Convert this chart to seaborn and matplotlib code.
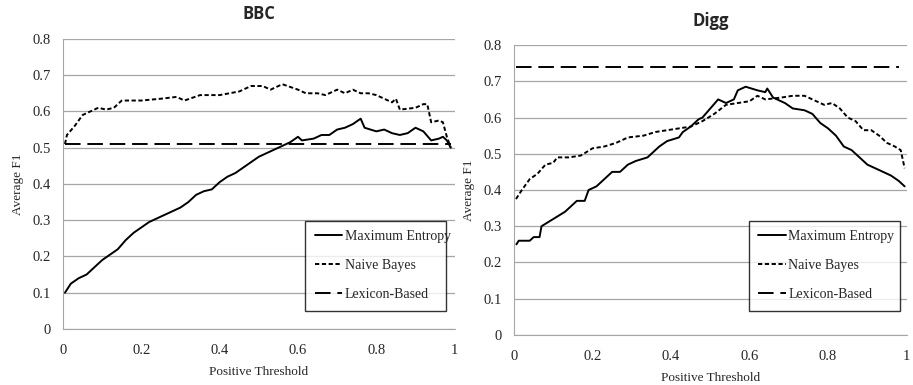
import numpy as np
import pandas as pd
import seaborn as sns
import matplotlib.pyplot as plt

# BBC
bbc_me_x = [0.005, 0.02, 0.04, 0.06, 0.08, 0.1, 0.12, 0.14, 0.16, 0.18, 0.2, 0.22, 0.24, 0.26, 0.28, 0.3,
            0.32, 0.34, 0.36, 0.38, 0.4, 0.42, 0.44, 0.46, 0.48, 0.5, 0.52, 0.54, 0.56, 0.58, 0.6, 0.61,
            0.64, 0.66, 0.68, 0.7, 0.72, 0.74, 0.76, 0.77, 0.8, 0.82, 0.84, 0.86, 0.88, 0.9, 0.92, 0.94,
            0.96, 0.97, 0.98, 0.99]
bbc_me_y = [0.10, 0.125, 0.14, 0.15, 0.17, 0.19, 0.205, 0.22, 0.245, 0.265, 0.28, 0.295, 0.305, 0.315, 0.325, 0.335,
            0.35, 0.37, 0.38, 0.385, 0.405, 0.42, 0.43, 0.445, 0.46, 0.475, 0.485, 0.495, 0.505, 0.515, 0.53, 0.52,
            0.525, 0.535, 0.535, 0.55, 0.555, 0.565, 0.58, 0.555, 0.545, 0.55, 0.54, 0.535, 0.54, 0.555, 0.545, 0.52,
            0.525, 0.53, 0.52, 0.50]
bbc_nb_x = [0.005, 0.01, 0.03, 0.05, 0.07, 0.09, 0.11, 0.13, 0.15, 0.2, 0.25, 0.29, 0.31, 0.35, 0.4, 0.45,
            0.48, 0.51, 0.53, 0.56, 0.6, 0.62, 0.65, 0.67, 0.7, 0.72, 0.74, 0.76, 0.78, 0.8, 0.82, 0.84,
            0.85, 0.86, 0.9, 0.92, 0.93, 0.94, 0.96, 0.97, 0.98, 0.99]
bbc_nb_y = [0.51, 0.535, 0.56, 0.59, 0.60, 0.61, 0.605, 0.61, 0.63, 0.63, 0.635, 0.64, 0.63, 0.645, 0.645, 0.655,
            0.67, 0.67, 0.66, 0.675, 0.66, 0.65, 0.65, 0.645, 0.66, 0.65, 0.66, 0.65, 0.65, 0.645, 0.635, 0.625,
            0.635, 0.605, 0.61, 0.62, 0.62, 0.57, 0.575, 0.57, 0.53, 0.50]
bbc_lex_x = [0.005, 0.99]
bbc_lex_y = [0.51, 0.51]

# Digg
digg_me_x = [0.006, 0.012, 0.04, 0.05, 0.065, 0.07, 0.1, 0.13, 0.15, 0.16, 0.18, 0.19, 0.21, 0.23, 0.25, 0.27,
             0.29, 0.31, 0.34, 0.35, 0.37, 0.39, 0.42, 0.43, 0.45, 0.47, 0.48, 0.5, 0.52, 0.54, 0.56, 0.57,
             0.59, 0.62, 0.64, 0.645, 0.66, 0.69, 0.71, 0.74, 0.76, 0.78, 0.8, 0.82, 0.84, 0.86, 0.88, 0.9,
             0.92, 0.94, 0.96, 0.98, 0.995]
digg_me_y = [0.25, 0.26, 0.26, 0.27, 0.27, 0.30, 0.32, 0.34, 0.36, 0.37, 0.37, 0.40, 0.41, 0.43, 0.45, 0.45,
             0.47, 0.48, 0.49, 0.50, 0.52, 0.535, 0.545, 0.56, 0.575, 0.595, 0.60, 0.625, 0.65, 0.64, 0.65, 0.675,
             0.685, 0.675, 0.67, 0.68, 0.655, 0.64, 0.625, 0.62, 0.61, 0.585, 0.57, 0.55, 0.52, 0.51, 0.49, 0.47,
             0.46, 0.45, 0.44, 0.425, 0.41]
digg_nb_x = [0.005, 0.02, 0.04, 0.06, 0.08, 0.1, 0.11, 0.14, 0.17, 0.2, 0.23, 0.26, 0.29, 0.33, 0.36, 0.39,
             0.42, 0.45, 0.48, 0.51, 0.54, 0.57, 0.6, 0.62, 0.64, 0.68, 0.71, 0.74, 0.76, 0.79, 0.81, 0.83,
             0.85, 0.87, 0.89, 0.91, 0.93, 0.95, 0.97, 0.985, 0.995]
digg_nb_y = [0.375, 0.40, 0.43, 0.445, 0.47, 0.475, 0.49, 0.49, 0.495, 0.515, 0.52, 0.53, 0.545, 0.55, 0.56, 0.565,
             0.57, 0.575, 0.59, 0.61, 0.635, 0.64, 0.645, 0.66, 0.65, 0.655, 0.66, 0.66, 0.65, 0.635, 0.64, 0.625,
             0.60, 0.59, 0.565, 0.565, 0.55, 0.53, 0.52, 0.51, 0.46]
digg_lex_x = [0.005, 0.98]
digg_lex_y = [0.74, 0.74]

series_names = ["Maximum Entropy", "Naive Bayes", "Lexicon-Based"]
x_ticks = [0, 0.2, 0.4, 0.6, 0.8, 1]
x_tick_labels = ["0", "0.2", "0.4", "0.6", "0.8", "1"]
y_ticks = [0, 0.1, 0.2, 0.3, 0.4, 0.5, 0.6, 0.7, 0.8]
y_tick_labels = ["0", "0.1", "0.2", "0.3", "0.4", "0.5", "0.6", "0.7", "0.8"]

sns.set_style("white")
plt.rcParams["font.family"] = ["Liberation Serif", "DejaVu Serif"]

estilos = {"Maximum Entropy": "-", "Naive Bayes": (0, (2.2, 1.3)), "Lexicon-Based": (0, (8, 3.5))}

fig = plt.figure(figsize=(9.13, 3.85), dpi=100)
ax1 = fig.add_axes([0.069, 0.1455, 0.429, 0.7535])
ax2 = fig.add_axes([0.563, 0.130, 0.430, 0.753])

paneles = [
    (ax1, "BBC", [(bbc_me_x, bbc_me_y), (bbc_nb_x, bbc_nb_y), (bbc_lex_x, bbc_lex_y)], (0.6, 0.038, 0.395, 0.307)),
    (ax2, "Digg", [(digg_me_x, digg_me_y), (digg_nb_x, digg_nb_y), (digg_lex_x, digg_lex_y)], (0.58, 0.059, 0.42, 0.293)),
]

for ax, titulo, datos, caja in paneles:
    for nombre, (xs, ys) in zip(series_names, datos):
        df = pd.DataFrame({"x": xs, "y": ys})
        sns.lineplot(data=df, x="x", y="y", ax=ax, color="black", linewidth=1.4,
                     linestyle=estilos[nombre], label=nombre)
    ax.set_xlim(0, 1)
    ax.set_ylim(0, 0.8)
    ax.set_xticks(x_ticks)
    ax.set_xticklabels(x_tick_labels)
    ax.set_yticks(y_ticks)
    ax.set_yticklabels(y_tick_labels)
    ax.yaxis.grid(True, color="#a6a6a6", linewidth=0.9)
    ax.set_axisbelow(True)
    for s in ["top", "right"]:
        ax.spines[s].set_visible(False)
    ax.spines["left"].set_color("#a6a6a6")
    ax.spines["bottom"].set_color("#a6a6a6")
    ax.tick_params(axis="both", direction="out", length=3, color="#a6a6a6", labelsize=10.5, pad=6)
    ax.tick_params(axis="x", pad=8)
    ax.set_xlabel("Positive Threshold", fontsize=9.5, labelpad=6)
    ax.set_ylabel("Average F1", fontsize=9.5, labelpad=6)
    ax.set_title(titulo, fontsize=12, fontweight="bold", family="Open Sans", pad=14)
    leg = ax.legend(loc="lower left", bbox_to_anchor=caja, mode="expand", fontsize=10, frameon=True,
                    fancybox=False, edgecolor="black", handlelength=2.0, handletextpad=0.15,
                    labelspacing=1.15, borderpad=0.7)
    leg.get_frame().set_linewidth(1.0)

fig.savefig("out.png", dpi=100)
